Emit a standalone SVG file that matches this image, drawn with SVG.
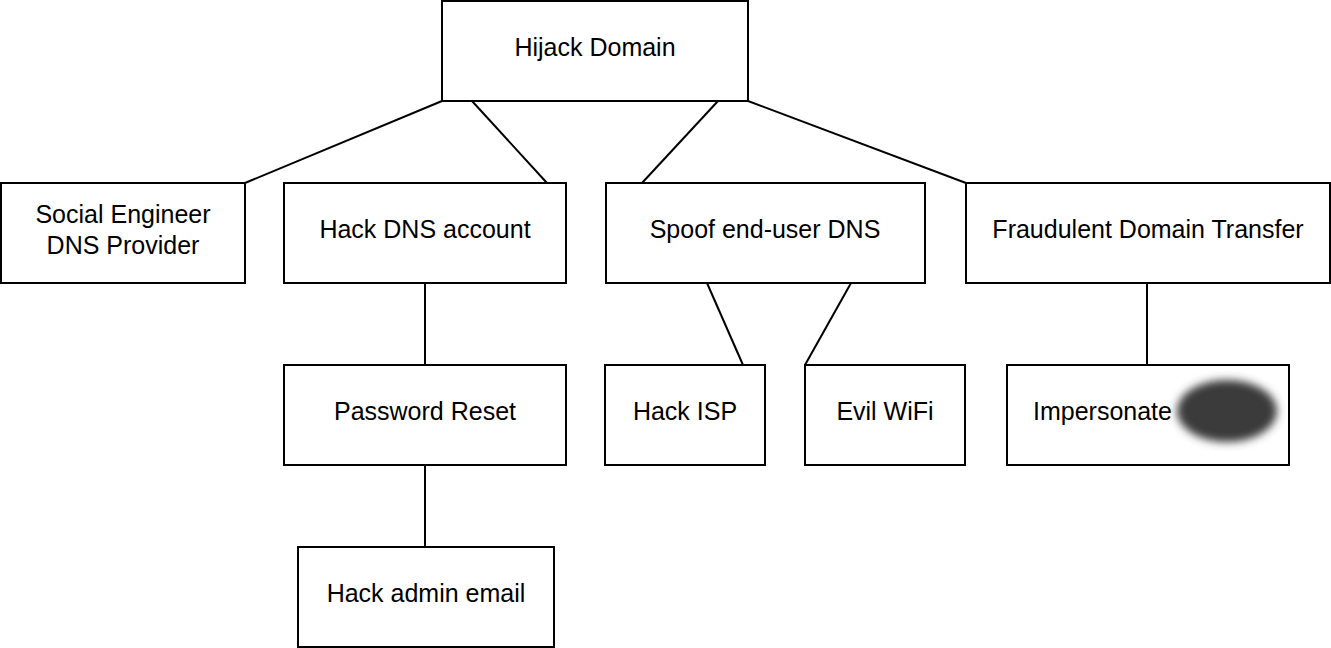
<svg xmlns="http://www.w3.org/2000/svg" width="1331" height="648" viewBox="0 0 1331 648">
<style>
.n rect{fill:#fff;stroke:#000;stroke-width:2}
.n text{font-family:"Liberation Sans",Arial,sans-serif;font-size:25px;fill:#000;text-anchor:middle;dominant-baseline:central}
#edges line{stroke:#000;stroke-width:2}
</style>
<defs><filter id="blur" x="-30%" y="-30%" width="160%" height="160%"><feGaussianBlur stdDeviation="4"/></filter></defs>
<rect width="1331" height="648" fill="#fff"/>
<g id="edges">
<line x1="442" y1="101" x2="245" y2="183"/>
<line x1="472" y1="101" x2="547" y2="183"/>
<line x1="718" y1="101" x2="642" y2="183"/>
<line x1="748" y1="101" x2="966" y2="183"/>
<line x1="425" y1="283" x2="425" y2="365"/>
<line x1="425" y1="465" x2="425" y2="547"/>
<line x1="707" y1="283" x2="743" y2="365"/>
<line x1="851" y1="283" x2="805" y2="365"/>
<line x1="1147" y1="283" x2="1147" y2="365"/>
</g>
<g id="hijack" class="n"><rect x="442" y="1" width="306" height="100"/><text x="595" y="47">Hijack Domain</text></g>
<g id="social" class="n"><rect x="1" y="183" width="244" height="100"/><text x="123" y="214">Social Engineer</text><text x="123" y="245">DNS Provider</text></g>
<g id="hackdns" class="n"><rect x="284" y="183" width="282" height="100"/><text x="425" y="229">Hack DNS account</text></g>
<g id="spoof" class="n"><rect x="606" y="183" width="319" height="100"/><text x="765" y="229">Spoof end-user DNS</text></g>
<g id="fraud" class="n"><rect x="966" y="183" width="364" height="100"/><text x="1148" y="229">Fraudulent Domain Transfer</text></g>
<g id="pwreset" class="n"><rect x="284" y="365" width="282" height="100"/><text x="425" y="411">Password Reset</text></g>
<g id="isp" class="n"><rect x="605" y="365" width="160" height="100"/><text x="685" y="411">Hack ISP</text></g>
<g id="wifi" class="n"><rect x="805" y="365" width="160" height="100"/><text x="885" y="411">Evil WiFi</text></g>
<g id="imperson" class="n"><rect x="1007" y="365" width="282" height="100"/><text x="1033" y="411" style="text-anchor:start">Impersonate</text>
<ellipse cx="1227" cy="411" rx="50" ry="31" fill="#3a3a3a" filter="url(#blur)"/></g>
<g id="email" class="n"><rect x="298" y="547" width="256" height="100"/><text x="426" y="593">Hack admin email</text></g>
</svg>
